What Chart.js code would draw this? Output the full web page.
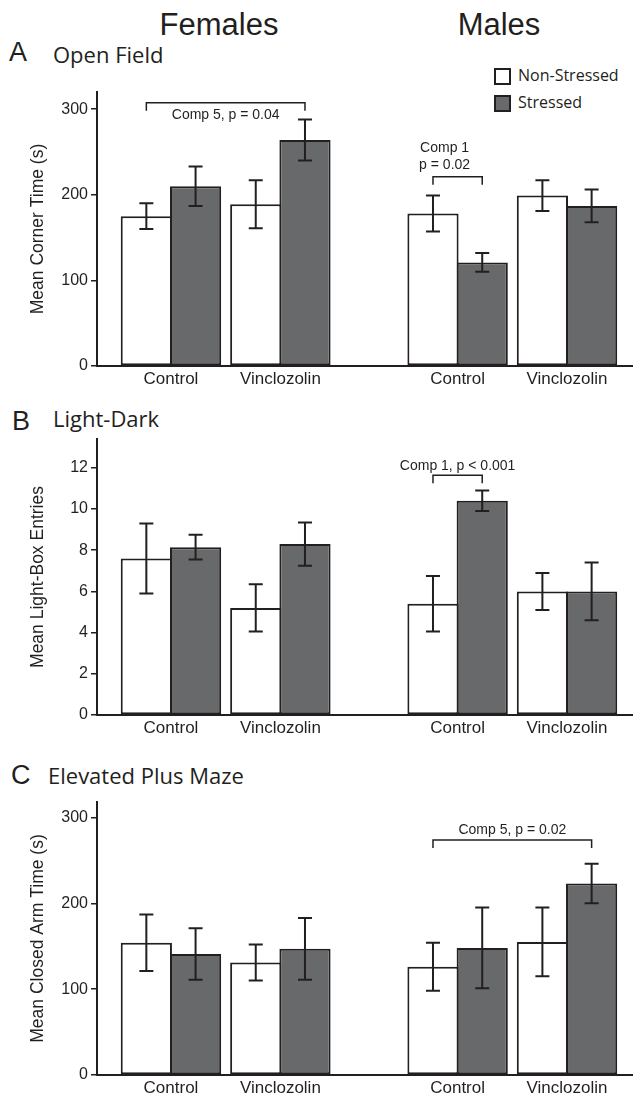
<!DOCTYPE html>
<html>
<head>
<meta charset="utf-8">
<script src="https://cdn.jsdelivr.net/npm/chart.js@4.4.0/dist/chart.umd.min.js"></script>
<style>
  html, body { margin: 0; padding: 0; background: #fff; overflow: hidden; }
  body { width: 633px; height: 1095px; position: relative; }
  canvas { position: absolute; left: 0; }
  .txt { position: absolute; color: #231f20; white-space: nowrap; line-height: 1; }
  .sex { font-size: 31px; font-family: "Liberation Sans", Arial, sans-serif; transform: translateX(-50%); }
  .letter { font-size: 27px; font-family: "Liberation Sans", Arial, sans-serif; }
  .ptitle { font-size: 22px; font-family: "Open Sans", sans-serif; }
  .leg { font-size: 16px; font-family: "Open Sans", sans-serif; }
  .box { position: absolute; width: 13px; height: 13px; border: 2px solid #231f20; }
</style>
</head>
<body>
<div class="txt sex" style="left:219px; top:9px;">Females</div>
<div class="txt sex" style="left:499px; top:9px;">Males</div>

<div class="txt letter" style="left:9px; top:39px;">A</div>
<div class="txt ptitle" style="left:53px; top:43px;">Open Field</div>
<div class="txt letter" style="left:12px; top:408px;">B</div>
<div class="txt ptitle" style="left:53px; top:407px;">Light-Dark</div>
<div class="txt letter" style="left:11px; top:762px;">C</div>
<div class="txt ptitle" style="left:48px; top:764px;">Elevated Plus Maze</div>

<div class="box" style="left:494px; top:68px; background:#fff;"></div>
<div class="txt leg" style="left:518px; top:67px;">Non-Stressed</div>
<div class="box" style="left:494px; top:95px; background:#68696b;"></div>
<div class="txt leg" style="left:518px; top:94px;">Stressed</div>

<canvas id="openField" width="633" height="316" style="top:76px;"></canvas>
<canvas id="lightDark" width="633" height="318" style="top:423px;"></canvas>
<canvas id="plusMaze" width="633" height="315" style="top:786px;"></canvas>

<script>
var treatments = ['Control', 'Vinclozolin'];
var conditions = ['Non-Stressed', 'Stressed'];

// order of every series: Females-Control, Females-Vinclozolin, Males-Control, Males-Vinclozolin
var openFieldNonStressed = [175, 189, 178, 199];
var openFieldNonStressedErr = [15, 28, 21, 18];
var openFieldStressed = [210, 264, 121, 187];
var openFieldStressedErr = [23, 24, 11, 19];

var lightDarkNonStressed = [7.6, 5.2, 5.4, 6.0];
var lightDarkNonStressedErr = [1.7, 1.15, 1.35, 0.9];
var lightDarkStressed = [8.15, 8.3, 10.4, 6.0];
var lightDarkStressedErr = [0.6, 1.05, 0.5, 1.4];

var plusMazeNonStressed = [154, 131, 126, 155];
var plusMazeNonStressedErr = [33, 21, 28, 40];
var plusMazeStressed = [141, 147, 148, 223];
var plusMazeStressedErr = [30, 36, 47, 23];

var ink = '#231f20';
var grey = '#68696b';
var sexGap = 2.62; // distance between the female and male groups, in group widths

Chart.defaults.font.family = '"Liberation Sans", Arial, sans-serif';
Chart.defaults.color = ink;

function xPos(i) {
  return (i % 2) + Math.floor(i / 2) * sexGap;
}

// draws mean +/- SEM whiskers on top of the bars
var errorBars = {
  id: 'errorBars',
  afterDatasetsDraw: function(chart) {
    var c = chart.ctx, ys = chart.scales.y;
    c.save();
    c.strokeStyle = ink;
    c.lineWidth = 2;
    chart.data.datasets.forEach(function(ds, di) {
      chart.getDatasetMeta(di).data.forEach(function(bar, i) {
        var v = ds.data[i].y, e = ds.errors[i];
        var top = ys.getPixelForValue(v + e), bot = ys.getPixelForValue(v - e);
        c.beginPath();
        c.moveTo(bar.x, top); c.lineTo(bar.x, bot);
        c.moveTo(bar.x - 7, top); c.lineTo(bar.x + 7, top);
        c.moveTo(bar.x - 7, bot); c.lineTo(bar.x + 7, bot);
        c.stroke();
      });
    });
    c.restore();
  }
};

// comparison brackets with their p-value text
var brackets = {
  id: 'brackets',
  afterDraw: function(chart, args, opts) {
    var c = chart.ctx, ys = chart.scales.y;
    (opts.items || []).forEach(function(b) {
      var x1 = chart.getDatasetMeta(b.from[0]).data[b.from[1]].x;
      var x2 = chart.getDatasetMeta(b.to[0]).data[b.to[1]].x;
      var y = ys.getPixelForValue(b.y);
      c.save();
      c.strokeStyle = ink;
      c.lineWidth = 1.5;
      c.beginPath();
      c.moveTo(x1, y + 8); c.lineTo(x1, y); c.lineTo(x2, y); c.lineTo(x2, y + 8);
      c.stroke();
      c.fillStyle = ink;
      c.font = '14px "Liberation Sans", Arial, sans-serif';
      c.textAlign = 'center';
      c.textBaseline = 'middle';
      b.text.forEach(function(line, k) {
        c.fillText(line, (x1 + x2) / 2 + (b.dx || 0), y + b.dy + k * 17);
      });
      c.restore();
    });
  }
};

function makePanel(id, p) {
  var pts = function(vals) {
    return vals.map(function(v, i) { return {x: xPos(i), y: v}; });
  };
  var barStyle = {borderColor: ink, borderWidth: 2, borderSkipped: false,
                  categoryPercentage: 0.9, barPercentage: 1.04};
  return new Chart(document.getElementById(id), {
    type: 'bar',
    data: {
      datasets: [
        Object.assign({label: conditions[0], data: pts(p.ns), errors: p.nsErr, backgroundColor: '#ffffff'}, barStyle),
        Object.assign({label: conditions[1], data: pts(p.s), errors: p.sErr, backgroundColor: grey}, barStyle)
      ]
    },
    options: {
      responsive: false,
      animation: false,
      layout: {padding: {top: 16, right: 1, left: 0, bottom: 0}},
      plugins: {
        legend: {display: false},
        tooltip: {enabled: false},
        brackets: {items: p.brackets}
      },
      scales: {
        x: {
          type: 'linear',
          min: -0.676,
          max: 4.214,
          offset: false,
          bounds: 'data',
          grid: {display: false, drawTicks: false},
          border: {display: true, color: ink, width: 2},
          afterBuildTicks: function(axis) {
            axis.ticks = [0, 1, 2, 3].map(function(i) { return {value: xPos(i)}; });
          },
          afterFit: function(axis) { axis.height = 26; },
          ticks: {
            autoSkip: false, maxRotation: 0, padding: 3, color: ink, font: {size: 17},
            callback: function(v, i) { return treatments[i % 2]; }
          }
        },
        y: {
          min: 0,
          max: p.yMax,
          ticks: {stepSize: p.step, includeBounds: false, padding: 3, color: ink, font: {size: 16}},
          grid: {drawOnChartArea: false, drawTicks: true, tickLength: 6, color: ink, lineWidth: 1.5},
          border: {display: true, color: ink, width: 2},
          title: {display: true, text: p.yTitle, color: ink, font: {size: 17.5}, padding: {top: 28, bottom: 0}},
          afterFit: function(axis) { axis.width = 97; }
        }
      }
    },
    plugins: [errorBars, brackets]
  });
}

makePanel('openField', {
  ns: openFieldNonStressed, nsErr: openFieldNonStressedErr,
  s: openFieldStressed, sErr: openFieldStressedErr,
  yMax: 320, step: 100, yTitle: 'Mean Corner Time (s)',
  brackets: [
    {from: [0, 0], to: [1, 1], y: 307.5, dy: 12.5, text: ['Comp 5, p = 0.04']},
    {from: [0, 2], to: [1, 2], y: 221, dy: -28.5, dx: -13, text: ['Comp 1', 'p = 0.02']}
  ]
});

makePanel('lightDark', {
  ns: lightDarkNonStressed, nsErr: lightDarkNonStressedErr,
  s: lightDarkStressed, sErr: lightDarkStressedErr,
  yMax: 13.4, step: 2, yTitle: 'Mean Light-Box Entries',
  brackets: [
    {from: [0, 2], to: [1, 2], y: 11.64, dy: -9.5, text: ['Comp 1, p < 0.001']}
  ]
});

makePanel('plusMaze', {
  ns: plusMazeNonStressed, nsErr: plusMazeNonStressedErr,
  s: plusMazeStressed, sErr: plusMazeStressedErr,
  yMax: 318, step: 100, yTitle: 'Mean Closed Arm Time (s)',
  brackets: [
    {from: [0, 2], to: [1, 3], y: 273.6, dy: -9.5, text: ['Comp 5, p = 0.02']}
  ]
});
</script>
</body>
</html>
